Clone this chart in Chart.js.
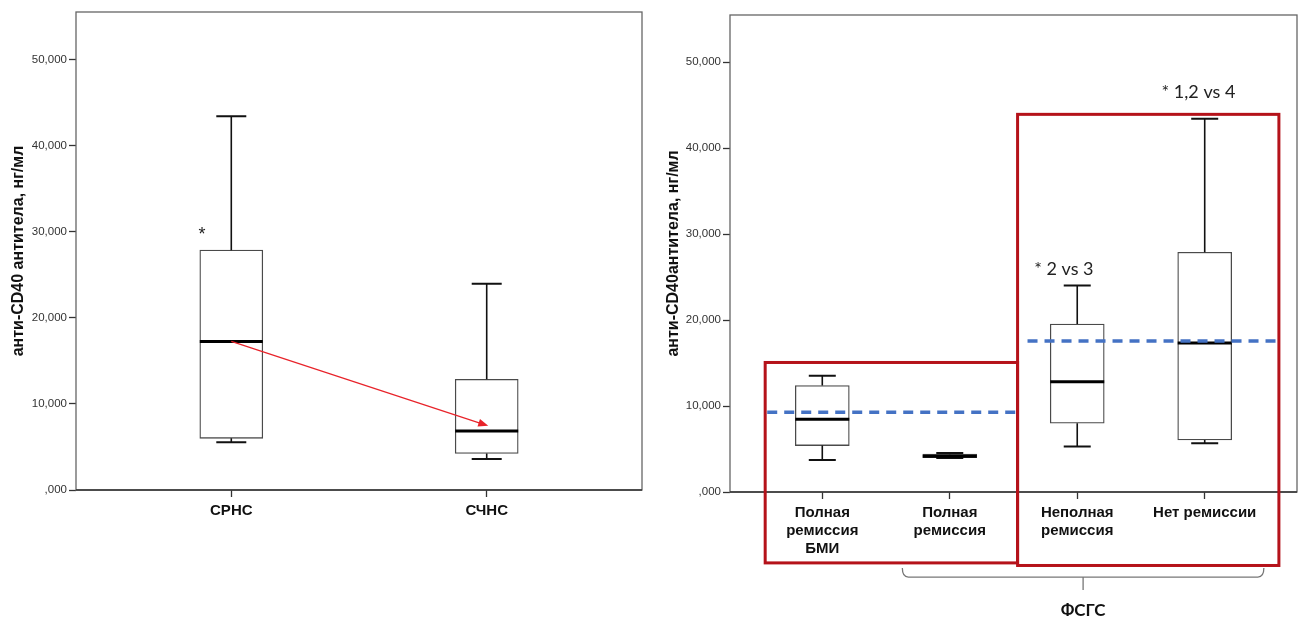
<!DOCTYPE html>
<html>
<head>
<meta charset="utf-8">
<script src="https://cdn.jsdelivr.net/npm/chart.js@4/dist/chart.umd.min.js"></script>
<style>
  html, body { margin: 0; padding: 0; background: #fff; }
  #wrap { position: relative; width: 1299px; height: 618px; overflow: hidden; }
  #left { position: absolute; left: 0; top: 0; }
  #right { position: absolute; left: 650px; top: 0; }
</style>
</head>
<body>
<div id="wrap">
  <canvas id="left" width="650" height="618"></canvas>
  <canvas id="right" width="649" height="618"></canvas>
</div>
<script>
// ---- Left panel: СРНС vs СЧНС ----
const leftCategories = ['СРНС', 'СЧНС'];
const leftLow    = [5.55, 3.6];
const leftQ1     = [6.0, 4.25];
const leftMedian = [17.25, 6.85];
const leftQ3     = [27.85, 12.85];
const leftHigh   = [43.4, 23.95];

// ---- Right panel: by remission status ----
const rightCategories = [['Полная', 'ремиссия', 'БМИ'], ['Полная', 'ремиссия'], ['Неполная', 'ремиссия'], 'Нет ремиссии'];
const rightLow    = [3.73, 3.95, 5.28, 5.68];
const rightQ1     = [5.40, 4.0, 8.0, 6.06];
const rightMedian = [8.47, 4.15, 12.82, 17.33];
const rightQ3     = [12.39, 4.4, 19.55, 27.9];
const rightHigh   = [13.52, 4.55, 24.04, 43.44];

// group means drawn as dashed reference lines (remission group, FSGS group)
const groupMeans = [9.29, 17.56];

const yTickValues = [0, 10, 20, 30, 40, 50];
const yMax = 55.5;

const fmt = v => v === 0 ? ',000' : Number(v).toFixed(3).replace('.', ',');

function makeBoxPlugin(stats, boxWidth, capWidth) {
  return {
    id: 'boxParts',
    beforeDatasetsDraw(chart) {
      const { ctx, chartArea: a } = chart;
      ctx.save();
      ctx.strokeStyle = '#666';
      ctx.lineWidth = 1.3;
      ctx.strokeRect(a.left, a.top, a.right - a.left, a.bottom - a.top);
      ctx.strokeStyle = '#333';
      ctx.lineWidth = 1.6;
      ctx.beginPath();
      ctx.moveTo(a.left, a.bottom);
      ctx.lineTo(a.right, a.bottom);
      ctx.stroke();
      ctx.restore();
    },
    afterDatasetDraw(chart, args) {
      if (args.index !== 0) return;
      const { ctx, scales: { x, y } } = chart;
      ctx.save();
      stats.low.forEach((lo, i) => {
        const cx = x.getPixelForValue(i + 1);
        const yLo = y.getPixelForValue(lo);
        const yQ1 = y.getPixelForValue(stats.q1[i]);
        const yQ3 = y.getPixelForValue(stats.q3[i]);
        const yHi = y.getPixelForValue(stats.high[i]);
        const yMed = y.getPixelForValue(stats.median[i]);
        ctx.strokeStyle = '#111';
        ctx.lineWidth = 1.6;
        ctx.beginPath();
        ctx.moveTo(cx, yQ3); ctx.lineTo(cx, yHi);
        ctx.moveTo(cx, yQ1); ctx.lineTo(cx, yLo);
        ctx.stroke();
        ctx.lineWidth = 2;
        ctx.beginPath();
        ctx.moveTo(cx - capWidth / 2, yHi); ctx.lineTo(cx + capWidth / 2, yHi);
        ctx.moveTo(cx - capWidth / 2, yLo); ctx.lineTo(cx + capWidth / 2, yLo);
        ctx.stroke();
        ctx.lineWidth = 3;
        ctx.strokeStyle = '#000';
        ctx.beginPath();
        ctx.moveTo(cx - boxWidth / 2, yMed); ctx.lineTo(cx + boxWidth / 2, yMed);
        ctx.stroke();
      });
      ctx.restore();
    }
  };
}

function yScale(title, width, titlePad) {
  return {
    type: 'linear', min: 0, max: yMax,
    afterBuildTicks: s => { s.ticks = yTickValues.map(v => ({ value: v })); },
    afterFit: s => { s.width = width; },
    ticks: { callback: v => fmt(v), font: { family: 'Liberation Sans', size: 11.5 }, color: '#333', padding: 2 },
    grid: { drawOnChartArea: false, drawTicks: true, tickLength: 7, tickColor: '#333', tickWidth: 1.3 },
    border: { display: false },
    title: {
      display: true, text: title, color: '#111',
      font: { family: 'Liberation Sans', size: 16, weight: 'bold' },
      padding: { top: titlePad, bottom: 0 }
    }
  };
}

function xScale(cats, min, max, height) {
  return {
    type: 'linear', min, max, offset: false,
    afterBuildTicks: s => { s.ticks = cats.map((c, i) => ({ value: i + 1 })); },
    afterFit: s => { s.height = height; },
    ticks: {
      autoSkip: false, maxRotation: 0, minRotation: 0, padding: 5,
      callback: v => cats[Math.round(v) - 1],
      font: { family: 'Liberation Sans', size: 15, weight: 'bold' }, color: '#111'
    },
    grid: { offset: false, drawOnChartArea: false, drawTicks: true, tickLength: 7, tickColor: '#333', tickWidth: 1.3 },
    border: { display: false }
  };
}

function boxDataset(q1, q3, width) {
  return {
    type: 'bar', order: 1,
    data: q1.map((v, i) => ({ x: i + 1, y: [v, q3[i]] })),
    backgroundColor: '#fff', borderColor: '#4a4a4a', borderWidth: 1.3,
    borderSkipped: false, barThickness: width
  };
}

// ---- left chart ----
const leftNotes = {
  id: 'leftNotes',
  afterDraw(chart) {
    const { ctx, scales: { x, y } } = chart;
    ctx.save();
    // arrow from the СРНС median towards the СЧНС median
    const x0 = x.getPixelForValue(1), y0 = y.getPixelForValue(leftMedian[0]);
    const x1 = x.getPixelForValue(2.006), y1 = y.getPixelForValue(7.45);
    const ang = Math.atan2(y1 - y0, x1 - x0);
    ctx.strokeStyle = '#e8232a'; ctx.fillStyle = '#e8232a'; ctx.lineWidth = 1.2;
    ctx.beginPath(); ctx.moveTo(x0, y0);
    ctx.lineTo(x1 - 8 * Math.cos(ang), y1 - 8 * Math.sin(ang)); ctx.stroke();
    ctx.beginPath();
    ctx.moveTo(x1, y1);
    ctx.lineTo(x1 - 10 * Math.cos(ang) + 4 * Math.sin(ang), y1 - 10 * Math.sin(ang) - 4 * Math.cos(ang));
    ctx.lineTo(x1 - 10 * Math.cos(ang) - 4 * Math.sin(ang), y1 - 10 * Math.sin(ang) + 4 * Math.cos(ang));
    ctx.closePath(); ctx.fill();
    // significance mark
    ctx.fillStyle = '#222';
    ctx.font = '18px "Liberation Sans"';
    ctx.textAlign = 'center'; ctx.textBaseline = 'middle';
    ctx.fillText('*', x.getPixelForValue(0.885), y.getPixelForValue(30.0) + 3);
    ctx.restore();
  }
};

new Chart(document.getElementById('left'), {
  data: {
    datasets: [boxDataset(leftQ1, leftQ3, 63)]
  },
  options: {
    responsive: false, animation: false, devicePixelRatio: 1,
    layout: { padding: { top: 12, right: 8, left: 0, bottom: 0 } },
    plugins: { legend: { display: false }, tooltip: { enabled: false } },
    scales: {
      x: xScale(leftCategories, 0.392, 2.608, 128),
      y: yScale('анти-CD40 антитела, нг/мл', 76, 9)
    }
  },
  plugins: [makeBoxPlugin({ low: leftLow, q1: leftQ1, median: leftMedian, q3: leftQ3, high: leftHigh }, 63, 30), leftNotes]
});

// ---- right chart ----
const rightNotes = {
  id: 'rightNotes',
  afterDraw(chart) {
    const { ctx, scales: { x, y } } = chart;
    const px = v => x.getPixelForValue(v), py = v => y.getPixelForValue(v);
    ctx.save();
    // group frames
    ctx.strokeStyle = '#b5121a'; ctx.lineWidth = 3;
    ctx.strokeRect(px(0.552), py(15.07), px(2.532) - px(0.552), py(-8.25) - py(15.07));
    ctx.strokeRect(px(2.532), py(43.94), px(4.582) - px(2.532), py(-8.55) - py(43.94));
    // brace under ФСГС groups
    const bx1 = px(1.628), bx2 = px(4.464), bc = (bx1 + bx2) / 2;
    const by = py(-9.9), byTop = py(-8.85), byBot = py(-11.4);
    ctx.strokeStyle = '#777'; ctx.lineWidth = 1.3;
    ctx.beginPath();
    ctx.moveTo(bx1, byTop);
    ctx.quadraticCurveTo(bx1, by, bx1 + 6, by);
    ctx.lineTo(bx2 - 6, by);
    ctx.quadraticCurveTo(bx2, by, bx2, byTop);
    ctx.moveTo(bc, by); ctx.lineTo(bc, byBot);
    ctx.stroke();
    ctx.fillStyle = '#111';
    ctx.textAlign = 'center'; ctx.textBaseline = 'middle';
    ctx.font = 'bold 17px Lato';
    ctx.fillText('ФСГС', bc, 611);
    // significance notes
    ctx.fillStyle = '#222';
    ctx.font = '18px Lato';
    ctx.fillText('* 2 vs 3', px(2.895), py(25.87));
    ctx.fillText('* 1,2 vs 4', px(3.951), py(46.47));
    ctx.restore();
  }
};

function meanLine(level, from, to) {
  return {
    type: 'line', order: 0,
    data: [{ x: from, y: level }, { x: to, y: level }],
    borderColor: '#4472c4', borderWidth: 3.5, borderDash: [10, 7],
    pointRadius: 0, fill: false
  };
}

new Chart(document.getElementById('right'), {
  data: {
    datasets: [
      boxDataset(rightQ1, rightQ3, 54),
      meanLine(groupMeans[0], 0.568, 2.532),
      meanLine(groupMeans[1], 2.61, 4.582)
    ]
  },
  options: {
    responsive: false, animation: false, devicePixelRatio: 1,
    layout: { padding: { top: 15, right: 2, left: 0, bottom: 0 } },
    plugins: { legend: { display: false }, tooltip: { enabled: false } },
    scales: {
      x: xScale(rightCategories, 0.276, 4.724, 126),
      y: yScale('анти-CD40антитела, нг/мл', 80, 14)
    }
  },
  plugins: [makeBoxPlugin({ low: rightLow, q1: rightQ1, median: rightMedian, q3: rightQ3, high: rightHigh }, 54, 27), rightNotes]
});
</script>
</body>
</html>
